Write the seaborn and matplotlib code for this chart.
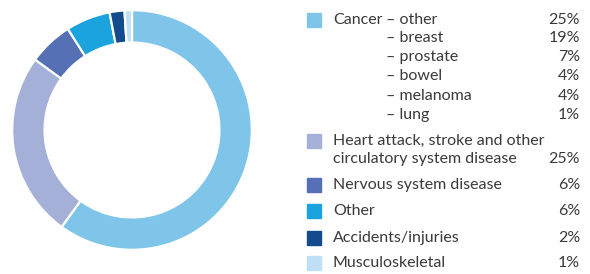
"""
Donut chart of causes of death with a text legend on the right
"""

# import section
import matplotlib
matplotlib.use('Agg')
import seaborn as sns
import matplotlib.pyplot as plt
from matplotlib.patches import Rectangle

# data
CANCER_TYPES = ['other', 'breast', 'prostate', 'bowel', 'melanoma', 'lung']
CANCER_SHARE = [25, 19, 7, 4, 4, 1]
GROUPS = ['Heart attack, stroke and other\ncirculatory system disease',
          'Nervous system disease', 'Other', 'Accidents/injuries',
          'Musculoskeletal']
GROUP_SHARE = [25, 6, 6, 2, 1]
COLORS = ['#7fc5e9', '#a4b0d7', '#5570b5', '#1ba3de', '#144b8c', '#bfe0f4']

# set plot dimensions
X_PIXELS, Y_PIXELS, DPI = 590, 274, 100
sns.set_style('white')
plt.rcParams['font.family'] = ['Lato', 'DejaVu Sans']
TEXT = '#3a3a3a'
FS = 11.5

fig = plt.figure(figsize=(X_PIXELS / DPI, Y_PIXELS / DPI), dpi=DPI)


def fx(px):
    return px / X_PIXELS


def fy(py):
    return 1 - py / Y_PIXELS


# donut
cx, cy, r = 132, 130, 121
ax = fig.add_axes([fx(cx - r), fy(cy + r), 2 * r / X_PIXELS, 2 * r / Y_PIXELS])
values = [sum(CANCER_SHARE)] + GROUP_SHARE
ax.pie(values, colors=COLORS, startangle=90, counterclock=False, radius=1,
       wedgeprops=dict(width=0.27, edgecolor='white', linewidth=1.6))
ax.set_xlim(-1.01, 1.01)
ax.set_ylim(-1.01, 1.01)
ax.set_aspect('equal')
ax.axis('off')


# legend
def square(py, color):
    fig.patches.append(Rectangle((fx(307), fy(py + 7)), 14 / X_PIXELS, 14 / Y_PIXELS,
                                 transform=fig.transFigure, color=color))


def label(px, py, s, ha='left'):
    fig.text(fx(px), fy(py), s, ha=ha, va='center', fontsize=FS, color=TEXT)


cancer_rows = [20, 38.5, 57, 76, 96, 115]
square(20, COLORS[0])
label(333, 20, 'Cancer')
for py, name, val in zip(cancer_rows, CANCER_TYPES, CANCER_SHARE):
    label(386, py, '\u2013 ' + name)
    label(580, py, f'{val}%', ha='right')

group_rows = [(141, 159), (185, 185), (211, 211), (238, 238), (263, 263)]
for (top, bottom), name, val, col in zip(group_rows, GROUPS, GROUP_SHARE, COLORS[1:]):
    square(top, col)
    for i, line in enumerate(name.split('\n')):
        label(333, top + i * 18, line)
    label(580, bottom, f'{val}%', ha='right')

plt.savefig('out.png', dpi=DPI)
